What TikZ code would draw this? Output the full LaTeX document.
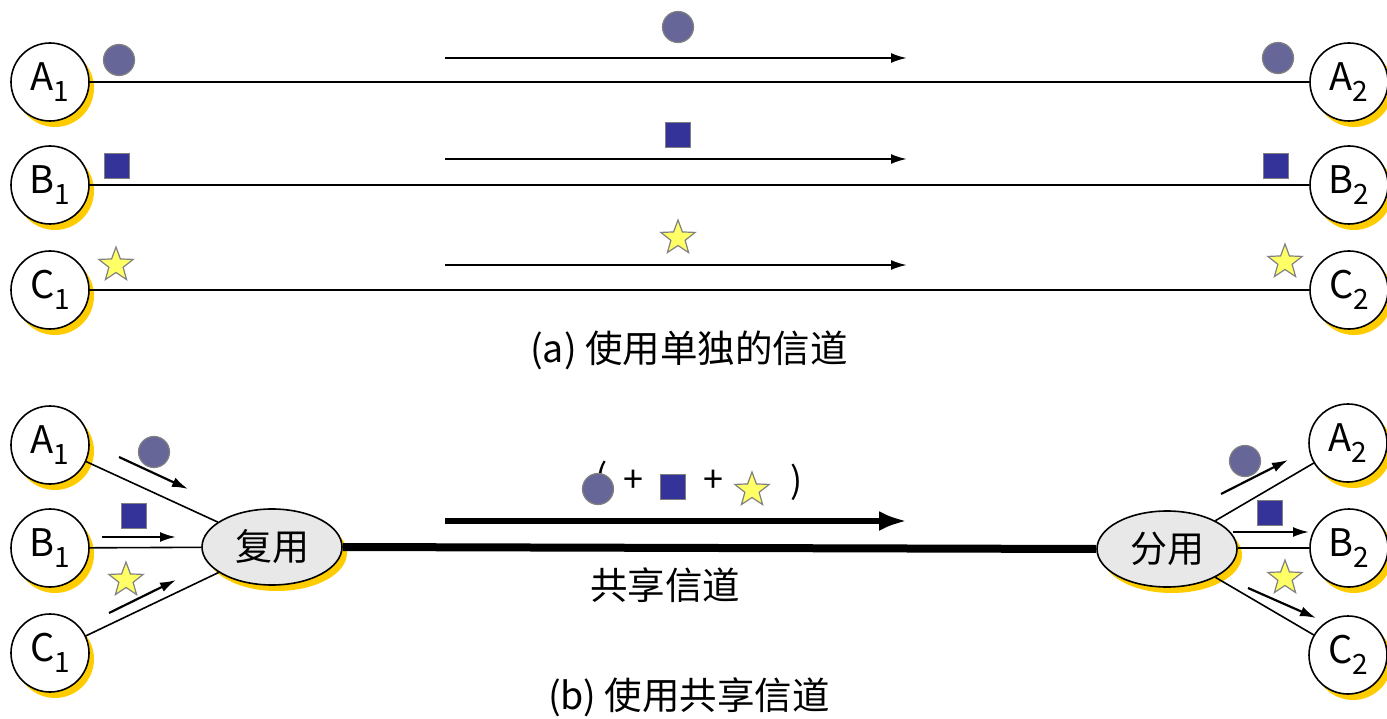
\documentclass[tikz,border=0pt]{standalone}
\usepackage{fontspec}
\setmainfont{Noto Sans CJK SC}
\usetikzlibrary{shapes.geometric,shadows,arrows.meta}
\definecolor{shy}{HTML}{FFCC00}
\definecolor{dotc}{HTML}{666699}
\definecolor{sqc}{HTML}{333399}
\definecolor{stc}{HTML}{FFFF66}
\definecolor{elc}{HTML}{E8E8E8}
\definecolor{edg}{HTML}{808080}
\newcommand\sbs[1]{\raisebox{-0.3em}{\fontsize{28}{30}\selectfont #1}}
\begin{document}
\begin{tikzpicture}[x=1pt,y=-1pt,
 yshadow/.style={drop shadow={shadow xshift=5pt,shadow yshift=-6pt,fill=shy,draw=none,opacity=1}},
 term/.style={circle,draw,line width=1.6pt,fill=white,minimum size=78pt,inner sep=0pt,
   font=\fontsize{38}{40}\selectfont,yshadow},
 muxbox/.style={ellipse,draw,line width=1.6pt,fill=elc,minimum width=140pt,minimum height=76pt,
   inner sep=0pt,font=\fontsize{37}{40}\selectfont,yshadow},
 dot/.style={circle,fill=dotc,draw=edg,line width=1.2pt,minimum size=31pt,inner sep=0pt},
 sq/.style={rectangle,fill=sqc,draw=edg,line width=1.2pt,minimum size=25pt,inner sep=0pt},
 st/.style={star,star points=5,star point ratio=2.4,fill=stc,draw=edg,line width=1.2pt,
   minimum size=36pt,inner sep=0pt},
 link/.style={line width=1.6pt},
 flow/.style={line width=2.2pt,-{Latex[length=16pt,width=10pt]}},
 bigflow/.style={line width=6pt,-{Latex[length=28pt,width=20pt]}},
 captxt/.style={font=\fontsize{37.5}{40}\selectfont},
 sym/.style={font=\fontsize{36}{38}\selectfont},
]
\useasboundingbox (0,0) rectangle (1387,719);
% ---------- (a) ----------
\node[term] (a1) at (50,82) {A\sbs{1}};
\node[term] (a2) at (1349,82) {A\sbs{2}};
\node[term] (b1) at (50,185) {B\sbs{1}};
\node[term] (b2) at (1349,185) {B\sbs{2}};
\node[term] (c1) at (50,290) {C\sbs{1}};
\node[term] (c2) at (1349,290) {C\sbs{2}};
\draw[link] (a1) -- (a2);
\draw[link] (b1) -- (b2);
\draw[link] (c1) -- (c2);
\draw[flow] (445,58) -- (907,58);
\draw[flow] (445,159) -- (907,159);
\draw[flow] (445,265) -- (907,265);
\node[dot] (da1) at (119,60) {};
\node[dot] (dam) at (678,27) {};
\node[dot] (da2) at (1278,58) {};
\node[sq] (sb1) at (117,166) {};
\node[sq] (sbm) at (678,135) {};
\node[sq] (sb2) at (1276,166) {};
\node[st] (tc1) at (116,265) {};
\node[st] (tcm) at (678,238) {};
\node[st] (tc2) at (1285,262) {};
\node[captxt] (capa) at (689,350) {(a) 使用单独的信道};
% ---------- (b) ----------
\node[term] (a1b) at (50,445) {A\sbs{1}};
\node[term] (b1b) at (50,548) {B\sbs{1}};
\node[term] (c1b) at (50,653) {C\sbs{1}};
\node[term] (a2b) at (1348,443) {A\sbs{2}};
\node[term] (b2b) at (1349,548) {B\sbs{2}};
\node[term] (c2b) at (1348,655) {C\sbs{2}};
\node[muxbox] (mux) at (272,547) {复用};
\node[muxbox] (demux) at (1167,549) {分用};
\draw[link] (a1b) -- (mux);
\draw[link] (b1b) -- (mux);
\draw[link] (c1b) -- (mux);
\draw[link] (demux) -- (a2b);
\draw[link] (demux.east |- b2b) -- (b2b);
\draw[link] (demux) -- (c2b);
\draw[line width=8pt] (mux.east) -- (demux.west);
\draw[bigflow] (445,521) -- (907,521);
% small arrows
\draw[flow] (119,457) -- (188,489);
\draw[flow] (102,537) -- (176,537);
\draw[flow] (109,613) -- (176,580);
\draw[flow] (1221,494) -- (1288,460);
\draw[flow] (1233,532) -- (1309,532);
\draw[flow] (1248,588) -- (1316,618);
\node[dot] (dm1) at (154,452) {};
\node[sq] (sm1) at (134,516) {};
\node[st] (tm1) at (126,580) {};
\node[dot] (dm2) at (1245,461) {};
\node[sq] (sm2) at (1270,513) {};
\node[st] (tm2) at (1285,578) {};
% combined label
\node[sym] (lp) at (602,479) {(};
\node[dot] (dmix) at (598,489) {};
\node[sym] (pl1) at (633,481) {+};
\node[sq] (smix) at (673,487) {};
\node[sym] (pl2) at (713,481) {+};
\node[st] (tmix) at (752,490) {};
\node[sym] (rp) at (797,482) {)};
\node[captxt] (share) at (665,585) {共享信道};
\node[captxt] (capb) at (689,697) {(b) 使用共享信道};
\end{tikzpicture}
\end{document}
